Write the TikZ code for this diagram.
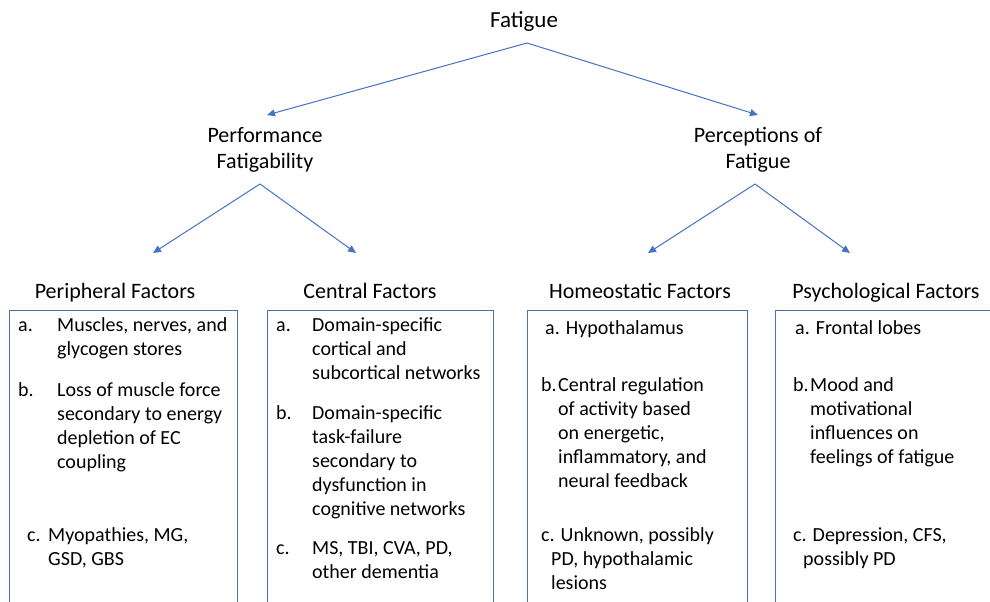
\documentclass[tikz,border=0pt]{standalone}
\usepackage{fontspec}
\setmainfont{Carlito}
\usetikzlibrary{arrows.meta}
\definecolor{arrblue}{HTML}{4472C4}
\definecolor{boxblue}{HTML}{4A6FAE}
\newcommand\li[3]{\begin{tabular}[t]{@{}p{#1}@{}l@{}}#2&#3\end{tabular}}
\newcommand\tl[1]{\begin{tabular}[t]{@{}l@{}}#1\end{tabular}}
\newcommand\tc[1]{\begin{tabular}[t]{@{}c@{}}#1\end{tabular}}
\begin{document}
\begin{tikzpicture}[x=1pt,y=-1pt,
  top/.style={anchor=base,inner sep=0pt,font=\fontsize{23}{27}\selectfont},
  lvl/.style={anchor=base,inner sep=0pt,font=\fontsize{22}{26}\selectfont},
  head/.style={anchor=base,inner sep=0pt,font=\fontsize{22}{26}\selectfont},
  itm/.style={anchor=base west,inner sep=0pt,font=\fontsize{20}{24}\selectfont},
  box/.style={draw=boxblue,line width=0.8pt,anchor=north west,minimum height=330pt,inner sep=0pt},
  conn/.style={draw=arrblue,line width=1pt,-{Triangle[length=8pt,width=7pt]}}]
\useasboundingbox (0,0) rectangle (990,602);
\clip (0,0) rectangle (990,602);
\fill[white] (0,0) rectangle (990,602);

% titles
\node[top] (fatigue) at (524,28) {Fatigue};
\node[lvl] (perf) at (265,142) {\tc{Performance\\Fatigability}};
\node[lvl] (perc) at (758,142) {\tc{Perceptions of\\Fatigue}};

% headings
\node[head] (h1) at (115,298) {Peripheral Factors};
\node[head] (h2) at (370,298) {Central Factors};
\node[head] (h3) at (640,298) {Homeostatic Factors};
\node[head] (h4) at (886,298) {Psychological Factors};

% boxes
\node[box,minimum width=228pt] (b1) at (9,310) {};
\node[box,minimum width=226pt] (b2) at (267,310) {};
\node[box,minimum width=220pt] (b3) at (527,310) {};
\node[box,minimum width=220pt] (b4) at (775,310) {};

% connector ends
\coordinate (fa) at (527,43);
\coordinate (t1) at (267,115);
\coordinate (t2) at (758,115);
\coordinate (pa) at (260,184);
\coordinate (pt1) at (153,253);
\coordinate (pt2) at (356,253);
\coordinate (qa) at (755,184);
\coordinate (qt1) at (648,253);
\coordinate (qt2) at (850,253);
\draw[conn] (fa) -- (t1);
\draw[conn] (fa) -- (t2);
\draw[conn] (pa) -- (pt1);
\draw[conn] (pa) -- (pt2);
\draw[conn] (qa) -- (qt1);
\draw[conn] (qa) -- (qt2);

% box 1
\node[itm] (p1a) at (18,331) {\li{39pt}{a.}{Muscles, nerves, and\\&glycogen stores}};
\node[itm] (p1b) at (18,396) {\li{39pt}{b.}{Loss of muscle force\\&secondary to energy\\&depletion of EC\\&coupling}};
\node[itm] (p1c) at (27,541) {\li{21pt}{c.}{Myopathies, MG,\\&GSD, GBS}};

% box 2
\node[itm] (p2a) at (276,331) {\li{36pt}{a.}{Domain-specific\\&cortical and\\&subcortical networks}};
\node[itm] (p2b) at (276,419) {\li{36pt}{b.}{Domain-specific\\&task-failure\\&secondary to\\&dysfunction in\\&cognitive networks}};
\node[itm] (p2c) at (276,554) {\li{36pt}{c.}{MS, TBI, CVA, PD,\\&other dementia}};

% box 3
\node[itm] (p3a) at (545,334) {a. Hypothalamus};
\node[itm] (p3b) at (541,391) {\li{17pt}{b.}{Central regulation\\&of activity based\\&on energetic,\\&inflammatory, and\\&neural feedback}};
\node[itm] (p3c) at (541,541) {\tl{c. Unknown, possibly\\\hspace*{10pt}PD, hypothalamic\\\hspace*{10pt}lesions}};

% box 4
\node[itm] (p4a) at (795,334) {a. Frontal lobes};
\node[itm] (p4b) at (793,391) {\li{17pt}{b.}{Mood and\\&motivational\\&influences on\\&feelings of fatigue}};
\node[itm] (p4c) at (793,541) {\tl{c. Depression, CFS,\\\hspace*{10pt}possibly PD}};
\end{tikzpicture}
\end{document}
